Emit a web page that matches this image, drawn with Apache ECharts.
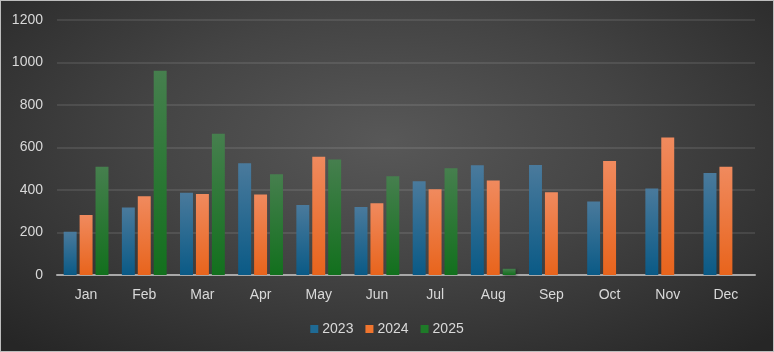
<!DOCTYPE html>
<html><head><meta charset="utf-8">
<script src="https://cdn.jsdelivr.net/npm/echarts@6/dist/echarts.min.js"></script>
<style>
html,body{margin:0;padding:0;}
#c{width:774px;height:352px;box-sizing:border-box;border:1px solid #bdbdbd;
background:radial-gradient(ellipse 70% 80% at 50% 40%, #585858 0%, #444 45%, #262626 100%);}
</style></head>
<body><div id="c"></div>
<script>
const categories = ['Jan','Feb','Mar','Apr','May','Jun','Jul','Aug','Sep','Oct','Nov','Dec'];
const seriesNames = ['2023','2024','2025'];
const values2023 = [203,318,387,526,329,320,441,516,518,346,407,480];
const values2024 = [282,371,381,379,557,338,404,445,389,537,647,510];
const values2025 = [510,961,665,474,543,465,502,30,null,null,null,null];
const yTicks = {min:0,max:1200,interval:200};

function grad(top,bottom){
  return {type:'linear',x:0,y:0,x2:0,y2:1,colorStops:[{offset:0,color:top},{offset:1,color:bottom}]};
}
const styles = [
  grad('#4a7a9c','#0a5a86'),
  grad('#f08a5e','#e8641c'),
  grad('#467f4e','#12701d')
];
const legendColors = ['#1f6a94','#f0752e','#1e7a28'];
const data = [values2023, values2024, values2025];

const chart = echarts.init(document.getElementById('c'), null, {renderer:'canvas'});
chart.setOption({
  backgroundColor:'transparent',
  textStyle:{fontFamily:'Liberation Sans, Arial, sans-serif'},
  grid:{left:56,right:18,top:19,bottom:76,containLabel:false},
  legend:{
    data:seriesNames.map((n,i)=>({name:n,itemStyle:{color:legendColors[i]}})),
    bottom:10,left:'center',icon:'rect',itemWidth:8,itemHeight:8,itemGap:12,
    textStyle:{color:'#d9d9d9',fontSize:14,padding:[0,0,0,-1]}
  },
  xAxis:{
    type:'category',data:categories,
    axisLine:{lineStyle:{color:'#a8a8a8',width:2}},
    axisTick:{show:false},
    axisLabel:{color:'#d9d9d9',fontSize:14,margin:13}
  },
  yAxis:{
    type:'value',min:yTicks.min,max:yTicks.max,interval:yTicks.interval,
    axisLine:{show:false},axisTick:{show:false},
    axisLabel:{color:'#d9d9d9',fontSize:14,margin:14,formatter:v=>String(v)},
    splitLine:{lineStyle:{color:'rgba(255,255,255,0.13)',width:1.5}}
  },
  series:seriesNames.map((n,i)=>({
    name:n,type:'bar',data:data[i],barGap:'23%',barCategoryGap:'23%',
    itemStyle:{color:styles[i],shadowColor:'rgba(0,0,0,0.45)',shadowBlur:3,shadowOffsetX:1,shadowOffsetY:1},
    emphasis:{disabled:true}
  }))
});
</script></body></html>
